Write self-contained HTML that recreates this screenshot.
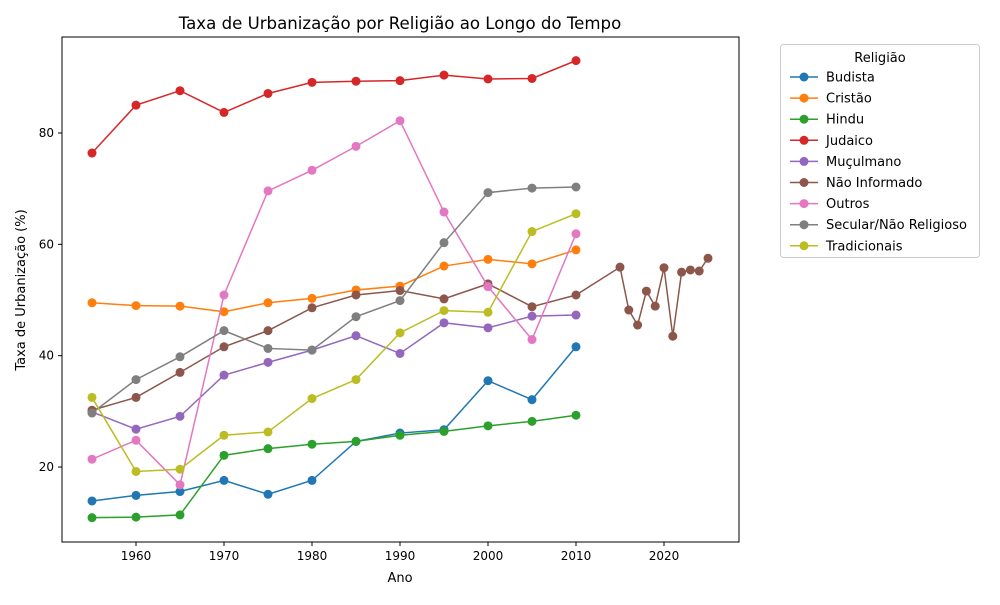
<!DOCTYPE html>
<html><head><meta charset="utf-8"><style>
body{margin:0;background:#fff;font-family:"Liberation Sans","DejaVu Sans",sans-serif}
</style></head><body>
<svg id="chart" width="1000" height="600" xmlns="http://www.w3.org/2000/svg" font-family="'DejaVu Sans','Liberation Sans',sans-serif">
<rect width="1000" height="600" fill="#fff"/>
<text x="400" y="29" font-size="16.6" text-anchor="middle">Taxa de Urbanização por Religião ao Longo do Tempo</text>
<g id="grid"></g>
<g id="series"></g>
<rect x="62" y="37" width="677" height="505" fill="none" stroke="#000" stroke-width="1"/>
<text x="400" y="582" font-size="13" text-anchor="middle">Ano</text>
<text transform="translate(25,290) rotate(-90)" font-size="13" text-anchor="middle">Taxa de Urbanização (%)</text>
<g id="legend"></g>
</svg>
<script>
const years = [1955,1960,1965,1970,1975,1980,1985,1990,1995,2000,2005,2010];
const naoYears = [1955,1960,1965,1970,1975,1980,1985,1990,1995,2000,2005,2010,2015,2016,2017,2018,2019,2020,2021,2022,2023,2024,2025];
const seriesNames = ["Budista","Cristão","Hindu","Judaico","Muçulmano","Não Informado","Outros","Secular/Não Religioso","Tradicionais"];
const colors = ["#1f77b4","#ff7f0e","#2ca02c","#d62728","#9467bd","#8c564b","#e377c2","#7f7f7f","#bcbd22"];
const budista = [13.9,14.9,15.6,17.6,15.1,17.6,24.6,26.1,26.7,35.5,32.1,41.6];
const cristao = [49.5,49,48.9,47.9,49.5,50.3,51.8,52.5,56.1,57.3,56.5,59];
const hindu = [10.9,11.0,11.4,22.1,23.3,24.1,24.6,25.7,26.4,27.4,28.2,29.3];
const judaico = [76.4,85,87.6,83.7,87.1,89.1,89.3,89.4,90.4,89.7,89.8,93];
const muculmano = [29.9,26.8,29.1,36.5,38.8,41,43.6,40.4,45.9,45,47.1,47.3];
const naoInformado = [30.2,32.5,37,41.6,44.5,48.6,50.9,51.7,50.2,52.9,48.8,50.9,55.9,48.2,45.5,51.6,48.9,55.8,43.5,55.0,55.4,55.2,57.5];
const outros = [21.4,24.8,16.8,50.9,69.6,73.3,77.6,82.2,65.8,52.4,42.9,61.9];
const secular = [29.7,35.7,39.8,44.5,41.3,41,47,49.9,60.3,69.3,70.1,70.3];
const tradicionais = [32.5,19.2,19.6,25.7,26.3,32.3,35.7,44.1,48.1,47.8,62.3,65.5];
const xTicks = [1960,1970,1980,1990,2000,2010,2020];
const yTicks = [20,40,60,80];

const NS="http://www.w3.org/2000/svg";
const x = v => 92 + (v-1955)*8.8;
const y = v => 133 - (v-80)*5.567;
function mk(tag, attrs, parent){const e=document.createElementNS(NS,tag);for(const k in attrs)e.setAttribute(k,attrs[k]);parent.appendChild(e);return e;}
const grid=document.getElementById('grid');
xTicks.forEach(t=>{
  const l=mk('line',{x1:x(t),x2:x(t),y1:542,y2:546,stroke:'#000'},grid);
  
  
  const tx=mk('text',{x:x(t),y:560,'font-size':12,'text-anchor':'middle'},grid);tx.textContent=t;
  
  
});
yTicks.forEach(t=>{
  const l=mk('line',{x1:58,x2:62,y1:y(t),y2:y(t),stroke:'#000'},grid);
  
  
  const tx=mk('text',{x:54,y:y(t)+4,'font-size':12,'text-anchor':'end'},grid);tx.textContent=t;
  
  
});
const all=[[years,budista],[years,cristao],[years,hindu],[years,judaico],[years,muculmano],[naoYears,naoInformado],[years,outros],[years,secular],[years,tradicionais]];
const sg=document.getElementById('series');
all.forEach(([xs,vs],i)=>{
  const g=mk('g',{},sg);
  
  
  const p=mk('polyline',{points:xs.map((t,j)=>x(t)+','+y(vs[j])).join(' '),fill:'none',stroke:colors[i],'stroke-width':1.5},g);
  
  
  xs.forEach((t,j)=>{
    const c=mk('circle',{cx:x(t),cy:y(vs[j]),r:4.5,fill:colors[i]},g);
    
    
  });
});
const lg=document.getElementById('legend');


mk('rect',{x:780.5,y:44.5,width:199,height:213,rx:3,fill:'#fff',stroke:'#ccc'},lg);
const lt=mk('text',{x:880,y:62,'font-size':13,'text-anchor':'middle'},lg);lt.textContent='Religião';
seriesNames.forEach((n,i)=>{
  const yy=77+i*21.1;
  const e=mk('g',{},lg);
  
  
  mk('line',{x1:790,x2:818,y1:yy,y2:yy,stroke:colors[i],'stroke-width':1.5},e);
  mk('circle',{cx:804,cy:yy,r:4.5,fill:colors[i]},e);
  const t=mk('text',{x:826,y:yy+4.5,'font-size':13},e);t.textContent=n;
});
</script>
</body></html>
